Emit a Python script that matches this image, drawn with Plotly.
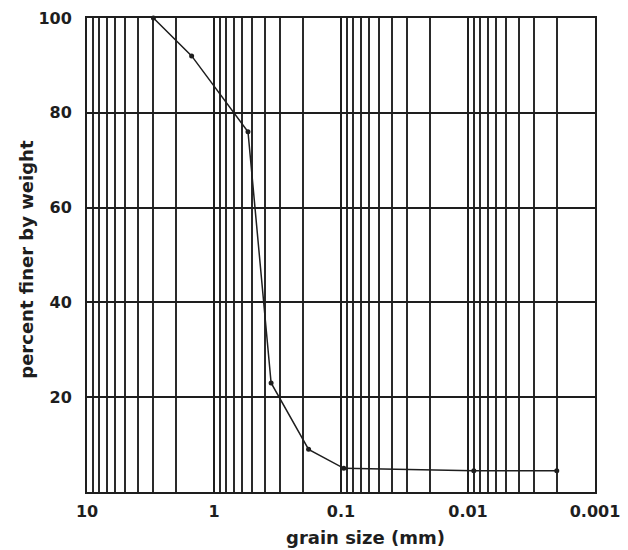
import plotly.graph_objects as go

# Data
grain_size_mm = [3.0, 1.5, 0.54, 0.355, 0.18, 0.095, 0.009, 0.002]
percent_finer = [100, 92, 76, 23, 9, 5, 4.5, 4.5]

x_tick_vals = [10, 1, 0.1, 0.01, 0.001]
x_tick_text = ["10", "1", "0.1", "0.01", "0.001"]
y_tick_vals = [20, 40, 60, 80, 100]
y_tick_text = ["20", "40", "60", "80", "100"]

# minor log grid (2..9 of each decade)
minor_vals = [m * 10.0 ** e for e in range(-3, 1) for m in range(2, 10)]

FONT = "DejaVu Sans, Verdana, sans-serif"
INK = "#1e1e1e"

fig = go.Figure()
fig.add_trace(go.Scatter(
    x=grain_size_mm, y=percent_finer,
    mode="lines+markers",
    line=dict(color=INK, width=1.5),
    marker=dict(color=INK, size=5),
    showlegend=False,
    cliponaxis=False,
))

fig.update_layout(
    width=620, height=542,
    margin=dict(l=79, r=33, t=10, b=58, autoexpand=False),
    paper_bgcolor="white",
    plot_bgcolor="white",
    font=dict(family=FONT, color=INK, size=16, weight="bold"),
    xaxis=dict(
        type="log",
        range=[1, -3],
        automargin=False,
        tickvals=x_tick_vals,
        ticktext=x_tick_text,
        ticks="",
        ticklabelstandoff=4,
        ticklabeloverflow="allow",
        showgrid=True,
        gridcolor=INK,
        gridwidth=1.5,
        minor=dict(tickvals=minor_vals, showgrid=True, gridcolor="#2a2a2a", gridwidth=1.5, ticks=""),
        showline=True, linecolor=INK, linewidth=2, mirror=True,
        zeroline=False,
        tickfont=dict(size=16, family=FONT, color=INK, weight="bold"),
    ),
    yaxis=dict(
        range=[0, 100],
        automargin=False,
        tickvals=y_tick_vals,
        ticktext=y_tick_text,
        ticks="",
        ticklabelstandoff=10,
        ticklabeloverflow="allow",
        showgrid=True,
        gridcolor=INK,
        gridwidth=1.5,
        showline=True, linecolor=INK, linewidth=2, mirror=True,
        zeroline=False,
        tickfont=dict(size=16, family=FONT, color=INK, weight="bold"),
    ),
    annotations=[
        dict(
            text="grain size (mm)", xref="paper", yref="paper",
            x=0.549, y=0, xanchor="center", yanchor="top", yshift=-33,
            showarrow=False,
            font=dict(size=18, family=FONT, color=INK, weight="bold"),
        ),
        dict(
            text="percent finer by weight", xref="paper", yref="paper",
            x=0, y=0.49, xanchor="center", yanchor="middle", xshift=-60,
            textangle=-90, showarrow=False,
            font=dict(size=18, family=FONT, color=INK, weight="bold"),
        ),
    ],
)

fig.write_html("out.html")
